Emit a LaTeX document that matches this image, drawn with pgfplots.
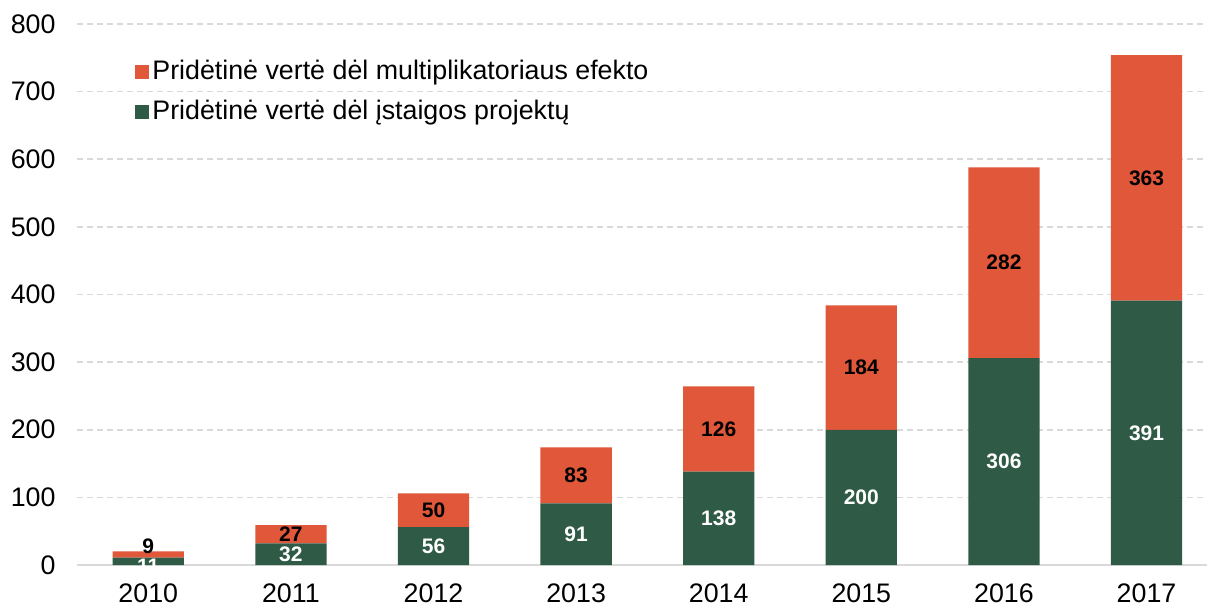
\documentclass[border=0pt]{standalone}
\usepackage{pgfplots}
\pgfplotsset{compat=1.18}
\usepackage{pgfplotstable}
\usepackage{fontspec}
\setmainfont{Liberation Sans}
\definecolor{cOr}{HTML}{E1573A}
\definecolor{cGr}{HTML}{2E5A46}
\definecolor{cGrid}{HTML}{D9D9D9}
\pgfplotstableread{
year g o
2010 11 9
2011 32 27
2012 56 50
2013 91 83
2014 138 126
2015 200 184
2016 306 282
2017 391 363
}\data
\begin{document}
\begin{tikzpicture}
\begin{axis}[
  at={(0,0)}, anchor=south west,
  scale only axis, width=565pt, height=270.5pt,
  xmin=-0.5, xmax=7.424, ymin=0, ymax=800,
  ybar stacked, bar width=0.5,
  xtick={0,1,2,3,4,5,6,7},
  xticklabels={2010,2011,2012,2013,2014,2015,2016,2017},
  ytick={0,100,200,300,400,500,600,700,800},
  ymajorgrids,
  grid style={cGrid, line width=0.8pt, dash pattern=on 3pt off 2pt},
  axis x line*=bottom, axis y line*=left,
  y axis line style={draw=none},
  x axis line style={cGrid, line width=0.8pt, -},
  major tick length=0,
  tick label style={font=\fontsize{13.4}{15}\selectfont},
  yticklabel style={xshift=-7.2pt},
  xticklabel style={yshift=-6pt},
  /pgf/number format/assume math mode=true,
  reverse legend,
  legend cell align=left,
  legend image code/.code={\fill[#1] (0pt,-3.5pt) rectangle (7pt,3.5pt);},
  legend style={draw=none, fill=none, at={(0,1)}, anchor=north west,
    xshift=29pt, yshift=-17.5pt, inner sep=0pt, row sep=7pt,
    font=\fontsize{13.4}{15}\selectfont,
    nodes={inner xsep=1.5pt, inner ysep=0pt, text height=10pt, text depth=3pt}},
]
\addplot[fill=cGr, draw=none,
  visualization depends on={\coordindex \as \idx},
  nodes near coords,
  every node near coord/.append style={anchor=center, text=white,
    font=\bfseries\fontsize{10.5}{12}\selectfont,
    yshift={-2.5*(\idx==0)}}]
  table[x expr=\coordindex, y=g] {\data};
\addlegendentry{Pridėtinė vertė dėl įstaigos projektų}
\addplot[fill=cOr, draw=none,
  visualization depends on={\coordindex \as \idx},
  nodes near coords,
  every node near coord/.append style={anchor=center, text=black,
    font=\bfseries\fontsize{10.5}{12}\selectfont,
    yshift={4*(\idx==0)}}]
  table[x expr=\coordindex, y=o] {\data};
\addlegendentry{Pridėtinė vertė dėl multiplikatoriaus efekto}
\end{axis}
\pgfresetboundingbox
\path[use as bounding box] (-38.5pt,-20.5pt) rectangle (565pt,282.5pt);
\end{tikzpicture}
\end{document}
